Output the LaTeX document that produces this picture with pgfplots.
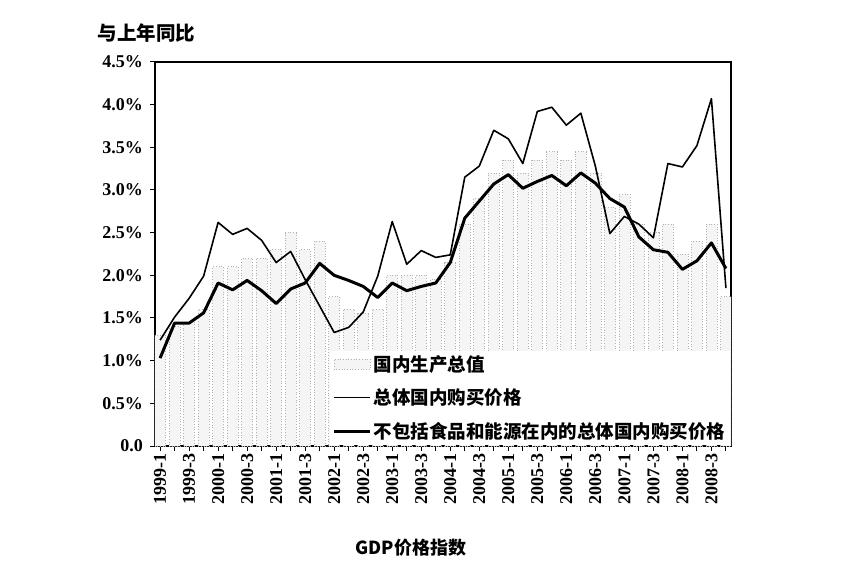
\documentclass[border=0pt]{standalone}
\usepackage{fontspec}
\setmainfont{Liberation Serif}
\newfontfamily\cjk{Noto Sans CJK SC}
\usepackage{pgfplots}
\pgfplotsset{compat=1.18}
\begin{document}
\begin{tikzpicture}[x=1pt,y=1pt]
\path[use as bounding box] (-155,-129) rectangle (695,446);
\begin{axis}[
  at={(0,0)}, anchor=south west,
  width=576pt, height=384pt, scale only axis,
  xmin=-0.35, xmax=39.35, ymin=0, ymax=4.5,
  xtick={0,2,...,38},
  minor xtick={1,3,...,39},
  xticklabels={1999-1,1999-3,2000-1,2000-3,2001-1,2001-3,2002-1,2002-3,2003-1,2003-3,2004-1,2004-3,2005-1,2005-3,2006-1,2006-3,2007-1,2007-3,2008-1,2008-3},
  ytick={0,0.5,...,4.5},
  yticklabels={0.0,0.5\%,1.0\%,1.5\%,2.0\%,2.5\%,3.0\%,3.5\%,4.0\%,4.5\%},
  xtick pos=bottom, ytick pos=left,
  tick align=outside,
  major tick length=5pt, minor tick length=5pt,
  every tick/.style={black, line width=1pt},
  axis line style={line width=1.2pt},
  x tick label style={rotate=90, anchor=east, font=\bfseries\fontsize{18}{18}\selectfont, inner sep=2pt},
  y tick label style={font=\bfseries\fontsize{18}{18}\selectfont, inner sep=2pt, xshift=-5pt},
  /pgf/number format/assume math mode=true,
  legend style={at={(1,0)}, anchor=south east, xshift=-0.8pt, yshift=0.8pt,
    draw=none, fill=white, inner xsep=3pt, inner ysep=3pt,
    font=\cjk\bfseries\fontsize{18.5}{18.5}\selectfont,
    row sep=12pt, cells={anchor=west}},
  legend cell align=left,
]
\addplot[ybar, bar width=11pt, fill=gray!8, draw=gray!60, dotted, line width=0.7pt,
  legend image code/.code={\draw[fill=gray!8, draw=gray!60, dotted, line width=0.7pt] (0pt,-5pt) rectangle (36pt,5pt);}]
coordinates {
(0,1.30) (1,1.40) (2,1.45) (3,1.60) (4,2.10) (5,2.10) (6,2.20) (7,2.20)
(8,2.30) (9,2.50) (10,2.30) (11,2.40) (12,1.75) (13,1.60) (14,1.55) (15,1.60)
(16,2.00) (17,2.00) (18,2.00) (19,1.95) (20,2.15) (21,2.60) (22,2.90) (23,3.20)
(24,3.35) (25,3.20) (26,3.35) (27,3.45) (28,3.35) (29,3.45) (30,3.20) (31,2.80)
(32,2.95) (33,2.60) (34,2.50) (35,2.60) (36,2.25) (37,2.40) (38,2.60) (39,1.75)
};
\addlegendentry{国内生产总值}
\addplot[black, line width=1.6pt, line join=round,
  legend image code/.code={\draw[black, line width=1.6pt] (0pt,0pt) -- (36pt,0pt);}]
coordinates {
(0,1.24) (1,1.51) (2,1.73) (3,1.99) (4,2.62) (5,2.48) (6,2.55) (7,2.41)
(8,2.15) (9,2.28) (10,1.95) (11,1.64) (12,1.33) (13,1.39) (14,1.57) (15,1.99)
(16,2.63) (17,2.13) (18,2.29) (19,2.21) (20,2.24) (21,3.15) (22,3.28) (23,3.70)
(24,3.60) (25,3.31) (26,3.92) (27,3.97) (28,3.76) (29,3.90) (30,3.28) (31,2.49)
(32,2.69) (33,2.60) (34,2.44) (35,3.31) (36,3.27) (37,3.52) (38,4.07) (39,1.85)
};
\addlegendentry{总体国内购买价格}
\addplot[black, line width=3pt, line join=round,
  legend image code/.code={\draw[black, line width=3pt] (0pt,0pt) -- (36pt,0pt);}]
coordinates {
(0,1.03) (1,1.44) (2,1.44) (3,1.56) (4,1.91) (5,1.83) (6,1.94) (7,1.82)
(8,1.67) (9,1.84) (10,1.91) (11,2.14) (12,2.00) (13,1.94) (14,1.87) (15,1.74)
(16,1.91) (17,1.82) (18,1.87) (19,1.91) (20,2.15) (21,2.67) (22,2.87) (23,3.07)
(24,3.18) (25,3.02) (26,3.10) (27,3.17) (28,3.05) (29,3.20) (30,3.08) (31,2.90)
(32,2.80) (33,2.45) (34,2.30) (35,2.27) (36,2.07) (37,2.17) (38,2.38) (39,2.08)
};
\addlegendentry{不包括食品和能源在内的总体国内购买价格}
\end{axis}
\node[anchor=west, font=\cjk\bfseries\fontsize{19.5}{19.5}\selectfont] at (-61,413) {与上年同比};
\node[font=\cjk\bfseries\fontsize{18}{18}\selectfont] at (256,-102) {GDP价格指数};
\end{tikzpicture}
\end{document}
